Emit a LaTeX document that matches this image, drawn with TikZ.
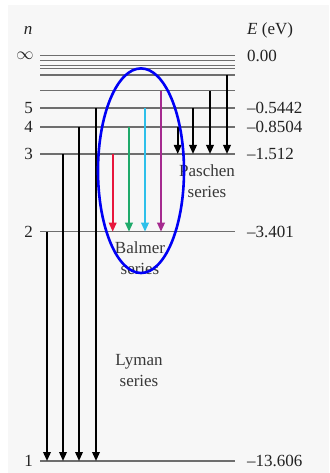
\documentclass[tikz,border=0pt]{standalone}
\usepackage{fontspec}
\setmainfont{Liberation Serif}
\usetikzlibrary{arrows.meta}
\definecolor{bg}{HTML}{F7F7F7}
\definecolor{lvl}{HTML}{6E6E6E}
\definecolor{txt}{HTML}{222222}
\definecolor{cred}{HTML}{E8163C}
\definecolor{cgreen}{HTML}{1FAA6B}
\definecolor{ccyan}{HTML}{2EC0EA}
\definecolor{cmag}{HTML}{A52A8F}
\definecolor{eblue}{HTML}{0000F5}
\tikzset{
  level/.style={draw=lvl, line width=1.2pt},
  trans/.style={line width=1.8pt, -{Triangle[length=9pt,width=7.5pt]}},
  lbl/.style={text=txt, font=\fontsize{17}{20}\selectfont, inner sep=0pt},
  series/.style={text=txt!90!white, font=\fontsize{17}{21}\selectfont, align=center, inner sep=0pt},
}
\begin{document}
\begin{tikzpicture}[x=1pt,y=-1pt]
\useasboundingbox (0,0) rectangle (329,473);
\fill[white] (0,0) rectangle (329,473);
\fill[bg] (8,5) rectangle (329,473);
% levels
\foreach \y/\w in {55.7/1.0, 61/1.0, 65.7/1.0, 69/1.0, 75/1.1, 90.7/1.2, 108/1.2, 127/1.2, 154/1.2, 231.7/1.2, 461/1.2}
  \draw[draw=lvl, line width=\w pt] (40,\y) -- (235,\y);
% level coordinates
\coordinate (L7a) at (227,75);
\coordinate (L6a) at (161,90.7); \coordinate (L6b) at (210,90.7);
\coordinate (L5a) at (96,108); \coordinate (L5b) at (145,108); \coordinate (L5c) at (193,108);
\coordinate (L4a) at (79,127); \coordinate (L4b) at (129,127); \coordinate (L4c) at (177.7,127);
\coordinate (L3a) at (63,154); \coordinate (L3b) at (112.7,154);
\coordinate (P1) at (177.7,154); \coordinate (P2) at (193,154); \coordinate (P3) at (210,154); \coordinate (P4) at (227,154);
\coordinate (L2a) at (47,231.7);
\coordinate (B1) at (112.7,231.7); \coordinate (B2) at (129,231.7); \coordinate (B3) at (145,231.7); \coordinate (B4) at (161,231.7);
\coordinate (Y1) at (47,461); \coordinate (Y2) at (63,461); \coordinate (Y3) at (79,461); \coordinate (Y4) at (96,461);
% Lyman
\draw[trans] (L2a) -- (Y1);
\draw[trans] (L3a) -- (Y2);
\draw[trans] (L4a) -- (Y3);
\draw[trans] (L5a) -- (Y4);
% Balmer
\draw[trans, cred] (L3b) -- (B1);
\draw[trans, cgreen] (L4b) -- (B2);
\draw[trans, ccyan] (L5b) -- (B3);
\draw[trans, cmag] (L6a) -- (B4);
% Paschen
\draw[trans] (L4c) -- (P1);
\draw[trans] (L5c) -- (P2);
\draw[trans] (L6b) -- (P3);
\draw[trans] (L7a) -- (P4);
% left labels
\node[lbl] (nlab) at (28,30) {\textit{n}};
\node[lbl] (ninf) at (25,56) {$\infty$};
\node[lbl, anchor=east] (n5) at (33,108) {5};
\node[lbl, anchor=east] (n4) at (33,127) {4};
\node[lbl, anchor=east] (n3) at (33,154) {3};
\node[lbl, anchor=east] (n2) at (33,232) {2};
\node[lbl, anchor=east] (n1) at (33,461) {1};
% right labels
\node[lbl, anchor=west] (elab) at (247,30) {\textit{E} (eV)};
\node[lbl, anchor=west] (e0) at (247,56) {0.00};
\node[lbl, anchor=west] (e5) at (247,108) {–0.5442};
\node[lbl, anchor=west] (e4) at (247,127) {–0.8504};
\node[lbl, anchor=west] (e3) at (247,154) {–1.512};
\node[lbl, anchor=west] (e2) at (247,232) {–3.401};
\node[lbl, anchor=west] (e1) at (247,461) {–13.606};
% series labels
\node[series] (pas) at (207,181) {Paschen\\series};
\node[series] (bal) at (140,258) {Balmer\\series};
\node[series] (lym) at (139,371) {Lyman\\series};
% ellipse
\draw[eblue, line width=2.6pt] (141,170.7) ellipse [x radius=43, y radius=102.3];
\end{tikzpicture}
\end{document}
